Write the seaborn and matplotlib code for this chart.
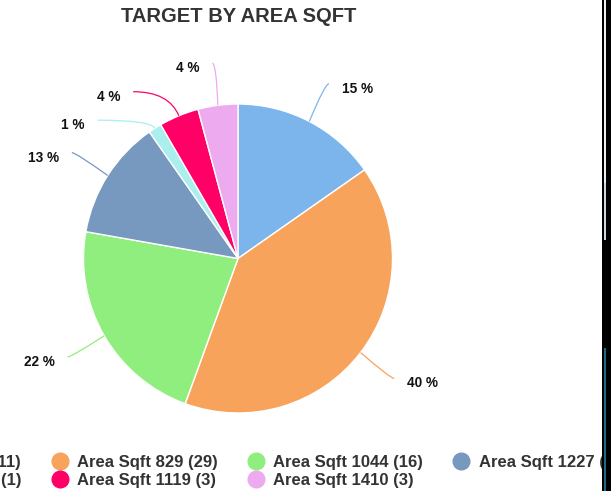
import numpy as np
import matplotlib
matplotlib.use("Agg")
import matplotlib.pyplot as plt
from matplotlib.path import Path
from matplotlib.patches import PathPatch, Rectangle
from matplotlib.lines import Line2D
import seaborn as sns

# ---------------- data ----------------
title = "TARGET BY AREA SQFT"
categories = ["Area Sqft 650", "Area Sqft 829", "Area Sqft 1044", "Area Sqft 1227",
              "Area Sqft 1040", "Area Sqft 1119", "Area Sqft 1410"]
counts = [11, 29, 16, 9, 1, 3, 3]
colors = ["#7cb5ec", "#f7a35c", "#90ee7e", "#7798BF", "#aaeeee", "#ff0066", "#eeaaee"]

# ---------------- style ----------------
sns.set_theme(style="white")
plt.rcParams["font.family"] = ["Liberation Sans", "DejaVu Sans"]

W, H = 611, 491
fig = plt.figure(figsize=(W / 100, H / 100), dpi=100)
fig.patch.set_facecolor("white")
ax = fig.add_axes([0, 0, 1, 1])

cx, cy, r = 238.0, H - 258.5, 154.5
wedges, _ = ax.pie(counts, colors=colors, startangle=90, counterclock=False,
                   center=(cx, cy), radius=r,
                   wedgeprops=dict(edgecolor="white", linewidth=1))
ax.set_xlim(0, W)
ax.set_ylim(0, H)
ax.set_aspect("equal")
ax.axis("off")

# ---------------- data labels with connectors ----------------
total = float(sum(counts))
R = r + 42.5
gap = 28.5
cum = np.cumsum([0] + counts[:-1])
mids = [2 * np.pi * (c0 + c / 2) / total for c0, c in zip(cum, counts)]
info = []
for i, th in enumerate(mids):
    side = 1 if np.sin(th) >= 0 else -1
    info.append(dict(i=i, th=th, side=side, y=R * np.cos(th)))

for side in (1, -1):
    grp = sorted([d for d in info if d["side"] == side], key=lambda d: -d["y"])
    for k in range(1, len(grp)):
        if grp[k]["y"] > grp[k - 1]["y"] - gap:
            grp[k]["y"] = grp[k - 1]["y"] - gap

for d in info:
    th, side, y = d["th"], d["side"], d["y"]
    x = side * np.sqrt(max(R ** 2 - y ** 2, 0.0))
    p0 = np.array([cx + r * np.sin(th), cy + r * np.cos(th)])
    p2 = np.array([cx + x, cy + y])
    c = np.cos(th)
    t = (p2[1] - p0[1]) / c if abs(c) > 1e-6 else 0
    t = max(t, 0)
    ctrl = np.array([p0[0] + t * np.sin(th), p2[1]])
    if (ctrl[0] - p2[0]) * side > -4:
        ctrl[0] = p2[0] - side * 4
    path = Path([p0, ctrl, p2], [Path.MOVETO, Path.CURVE3, Path.CURVE3])
    ax.add_patch(PathPatch(path, facecolor="none", edgecolor=colors[d["i"]], lw=0.9))
    pct = int(np.floor(100 * counts[d["i"]] / total + 0.5))
    ax.text(p2[0] + side * 13, p2[1] - 5, f"{pct} %", ha="left" if side > 0 else "right",
            va="center", fontsize=9.8, fontweight="bold", color="#111111")

# ---------------- title ----------------
fig.text(239 / W, 1 - 17 / H, title, ha="center", va="center", fontsize=14.5,
         fontweight="bold", color="#333333")

# ---------------- legend (row-major, 4 columns) ----------------
ncol = 4
n = len(counts)
nrow = int(np.ceil(n / ncol))
order = [row * ncol + col for col in range(ncol) for row in range(nrow) if row * ncol + col < n]
handles = [Line2D([], [], marker="o", linestyle="none", markersize=12,
                  markerfacecolor=colors[i], markeredgecolor=colors[i]) for i in order]
labels = [f"{categories[i]} ({counts[i]})" for i in order]
leg = fig.legend(handles, labels, ncol=ncol, loc="upper left", bbox_to_anchor=(0, 0.2),
                 frameon=False, borderpad=0, handlelength=1.2, handletextpad=0.45,
                 columnspacing=1.68, labelspacing=0.17,
                 prop=dict(size=12, weight="bold"))
for txt in leg.get_texts():
    txt.set_color("#333333")

fig.canvas.draw()
renderer = fig.canvas.get_renderer()
ref = leg.legend_handles[order.index(1)].get_window_extent(renderer)
rx, ry = (ref.x0 + ref.x1) / 2, (ref.y0 + ref.y1) / 2
tx, ty = 59.7, H - 461.3
leg.set_bbox_to_anchor((0 + (tx - rx) / W, 0.2 + (ty - ry) / H), transform=fig.transFigure)

# ---------------- right edge of the screenshot ----------------
fig.patches.append(Rectangle((602 / W, 0), 9 / W, 1, transform=fig.transFigure,
                             facecolor="black", edgecolor="none", zorder=10))
fig.patches.append(Rectangle((604 / W, 1 - 183 / H), 2 / W, 183 / H, transform=fig.transFigure,
                             facecolor="#eeeeee", edgecolor="none", zorder=11))
fig.patches.append(Rectangle((604 / W, 1 - 240 / H), 2 / W, 57 / H, transform=fig.transFigure,
                             facecolor="#c9d7e2", edgecolor="none", zorder=11))
fig.patches.append(Rectangle((604 / W, 0), 2 / W, (H - 348) / H, transform=fig.transFigure,
                             facecolor="#1d6a86", edgecolor="none", zorder=11))

fig.savefig("out.png", dpi=100)
